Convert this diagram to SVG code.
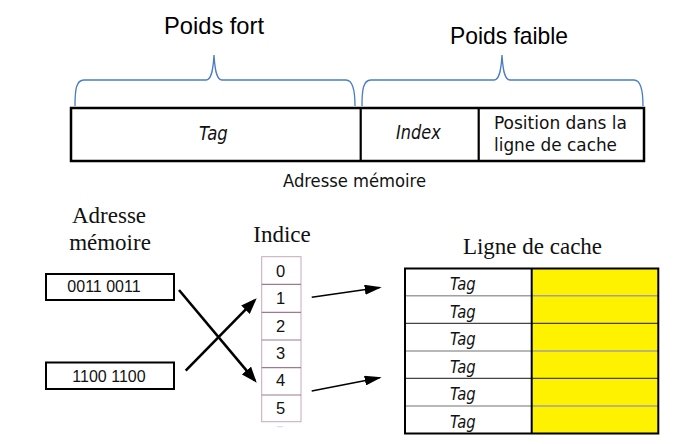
<svg xmlns="http://www.w3.org/2000/svg" width="673" height="444" viewBox="0 0 673 444">
<style>
.brace{fill:none;stroke:#4a7cc4;stroke-width:1.3}
.title{font-family:"Liberation Sans",Arial,sans-serif;font-size:24px;fill:#000}
.cond{font-family:"DejaVu Sans Condensed","DejaVu Sans",sans-serif;fill:#111}
.it{font-style:italic}
.serif{font-family:"Liberation Serif","Times New Roman",serif;font-size:23px;fill:#111}
.sans{font-family:"Liberation Sans",Arial,sans-serif;fill:#111}
.box{fill:#fff;stroke:#000;stroke-width:2.5}
.thick{stroke:#000;stroke-width:2.6;fill:none}
.thin{stroke:#000;stroke-width:1.5;fill:none}
.idx{fill:#fff;stroke:#c8a8bc;stroke-width:1}
.idxline{stroke:#a07890;stroke-width:1.2}
.rowl{stroke:#a0a0a0;stroke-width:1.5}
.rowd{stroke:#444;stroke-width:1.2}
</style>
<defs>
<marker id="headBig" viewBox="0 0 16 12" refX="13" refY="6" markerWidth="16" markerHeight="12" markerUnits="userSpaceOnUse" orient="auto">
<path d="M0,0 L16,6 L0,12 Z" fill="#000"/>
</marker>
<marker id="headSmall" viewBox="0 0 17 10" refX="15" refY="5" markerWidth="17" markerHeight="10" markerUnits="userSpaceOnUse" orient="auto">
<path d="M0,0 L17,5 L0,10 Z" fill="#000"/>
</marker>
</defs>

<g id="titles">
<text class="title" x="164" y="34" textLength="100" lengthAdjust="spacingAndGlyphs">Poids fort</text>
<text class="title" x="450" y="44" textLength="118" lengthAdjust="spacingAndGlyphs">Poids faible</text>
</g>

<g id="braces">
<path class="brace" d="M75,106 C75,90 76,80 84,80 L206,80 C211,80 213,72 214,55 C215,72 217,80 222,80 L346,80 C353,80 355,90 355,106"/>
<path class="brace" d="M362,106 C362,90 363,80 371,80 L494,80 C499,80 501,72 502,55 C503,72 505,80 510,80 L634,80 C641,80 643,90 643,106"/>
</g>

<g id="address-format">
<rect class="box" x="71" y="108" width="573" height="53"/>
<line x1="360.7" y1="108" x2="360.7" y2="161" stroke="#000" stroke-width="2.2"/>
<line x1="478.7" y1="108" x2="478.7" y2="161" stroke="#000" stroke-width="2.2"/>
<text class="cond it" x="199" y="140" font-size="19" textLength="28.7" lengthAdjust="spacingAndGlyphs">Tag</text>
<text class="cond it" x="396" y="139" font-size="19" textLength="44.7" lengthAdjust="spacingAndGlyphs">Index</text>
<text class="cond" x="494" y="129" font-size="18.5" textLength="133" lengthAdjust="spacingAndGlyphs">Position dans la</text>
<text class="cond" x="494" y="151" font-size="18.5" textLength="123" lengthAdjust="spacingAndGlyphs">ligne de cache</text>
<text class="cond" x="283" y="187" font-size="18.5" textLength="143" lengthAdjust="spacingAndGlyphs">Adresse mémoire</text>
</g>

<g id="memory-addresses">
<text class="serif" x="109" y="223" text-anchor="middle">Adresse</text>
<text class="serif" x="110" y="250" text-anchor="middle">mémoire</text>
<rect x="46" y="274" width="128" height="26" fill="#fff" stroke="#000" stroke-width="2"/>
<text class="sans" x="104" y="292" font-size="16" text-anchor="middle">0011 0011</text>
<rect x="46" y="362.5" width="128" height="26.5" fill="#fff" stroke="#000" stroke-width="2"/>
<text class="sans" x="109" y="382" font-size="16" text-anchor="middle">1100 1100</text>
</g>

<g id="index-table">
<text class="serif" x="282" y="242" text-anchor="middle">Indice</text>
<rect class="idx" x="261.7" y="256.7" width="39.3" height="165"/>
<line class="idxline" x1="261.7" y1="284.3" x2="301" y2="284.3"/>
<line class="idxline" x1="261.7" y1="312.3" x2="301" y2="312.3"/>
<line class="idxline" x1="261.7" y1="340" x2="301" y2="340"/>
<line class="idxline" x1="261.7" y1="367.7" x2="301" y2="367.7"/>
<line class="idxline" x1="261.7" y1="395" x2="301" y2="395"/>
<line x1="277" y1="426.7" x2="283" y2="426.7" stroke="#d8d8d8" stroke-width="1"/>
<text class="sans" x="280.5" y="276.5" font-size="16.5" text-anchor="middle">0</text>
<text class="sans" x="280.5" y="304" font-size="16.5" text-anchor="middle">1</text>
<text class="sans" x="280.5" y="332" font-size="16.5" text-anchor="middle">2</text>
<text class="sans" x="280.5" y="359" font-size="16.5" text-anchor="middle">3</text>
<text class="sans" x="280.5" y="385.5" font-size="16.5" text-anchor="middle">4</text>
<text class="sans" x="280.5" y="413.5" font-size="16.5" text-anchor="middle">5</text>
</g>

<g id="cache-lines">
<text class="serif" x="532.5" y="254" text-anchor="middle">Ligne de cache</text>
<rect x="405" y="268.5" width="253.3" height="165" fill="#fff"/>
<rect x="531.7" y="268.5" width="126.6" height="165" fill="#fff200"/>
<line class="rowl" x1="405" y1="295.7" x2="658.3" y2="295.7"/>
<line class="rowd" x1="405" y1="323.3" x2="658.3" y2="323.3"/>
<line class="rowl" x1="405" y1="351" x2="658.3" y2="351"/>
<line class="rowd" x1="405" y1="378.3" x2="658.3" y2="378.3"/>
<line class="rowl" x1="405" y1="406" x2="658.3" y2="406"/>
<line x1="531.7" y1="268.5" x2="531.7" y2="433.5" stroke="#000" stroke-width="2"/>
<rect x="405" y="268.5" width="253.3" height="165" fill="none" stroke="#000" stroke-width="2"/>
<text class="cond it" x="450" y="290" font-size="17" textLength="25.7" lengthAdjust="spacingAndGlyphs">Tag</text>
<text class="cond it" x="450" y="317.5" font-size="17" textLength="25.7" lengthAdjust="spacingAndGlyphs">Tag</text>
<text class="cond it" x="450" y="345" font-size="17" textLength="25.7" lengthAdjust="spacingAndGlyphs">Tag</text>
<text class="cond it" x="450" y="372.5" font-size="17" textLength="25.7" lengthAdjust="spacingAndGlyphs">Tag</text>
<text class="cond it" x="450" y="400" font-size="17" textLength="25.7" lengthAdjust="spacingAndGlyphs">Tag</text>
<text class="cond it" x="450" y="427.5" font-size="17" textLength="25.7" lengthAdjust="spacingAndGlyphs">Tag</text>
</g>

<g id="connectors">
<line class="thick" x1="179" y1="290" x2="254.8" y2="380.4" marker-end="url(#headBig)"/>
<line class="thick" x1="185.7" y1="370.7" x2="254.6" y2="300.4" marker-end="url(#headBig)"/>
<line class="thin" x1="311.7" y1="297.3" x2="379.7" y2="287.6" marker-end="url(#headSmall)"/>
<line class="thin" x1="311.7" y1="391" x2="379.7" y2="377.7" marker-end="url(#headSmall)"/>
</g>
</svg>
